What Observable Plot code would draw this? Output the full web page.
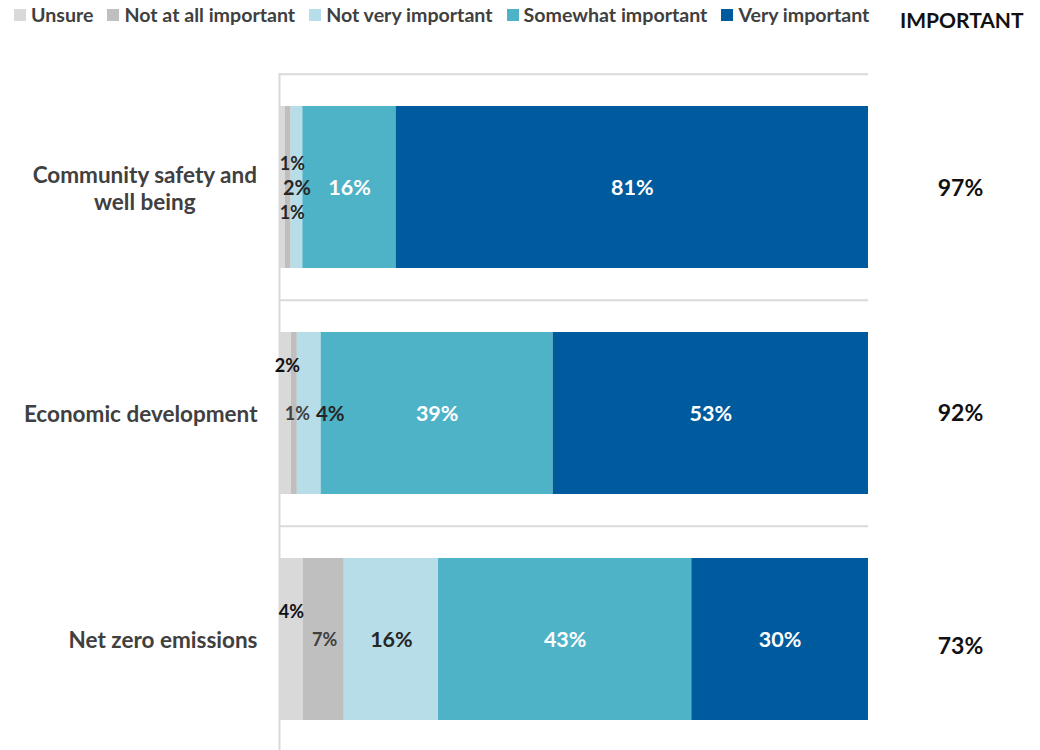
<!DOCTYPE html>
<html><head><meta charset="utf-8">
<script src="https://cdn.jsdelivr.net/npm/d3@7"></script>
<script src="https://cdn.jsdelivr.net/npm/@observablehq/plot@0.6"></script>
<style>
html,body{margin:0;padding:0;background:#fff;overflow:hidden;width:1040px;height:750px}
#wrap{position:relative;width:1040px;height:750px}
#legend{position:absolute;left:14px;top:3px;display:flex;align-items:center;font:bold 19.6px Lato, sans-serif;color:#404040;white-space:nowrap}
.item{display:flex;align-items:center;margin-right:14px}
.sw{width:12px;height:12px;margin-right:5px}
#hdr{position:absolute;left:900px;top:7px;font:bold 21px Lato, sans-serif;color:#111}
#chart{position:absolute;left:0;top:36px}
</style></head>
<body><div id="wrap"><div id="legend"></div><div id="hdr">IMPORTANT</div><div id="chart"></div></div>
<script>
// ---- data ----
const categories = ["Community safety and well being", "Economic development", "Net zero emissions"];
const categoryLabels = ["Community safety and\nwell being", "Economic development", "Net zero emissions"];
const series = ["Unsure", "Not at all important", "Not very important", "Somewhat important", "Very important"];
const unsure   = [1, 2, 4];
const notAtAll = [1, 1, 7];
const notVery  = [2, 4, 16];
const somewhat = [16, 39, 43];
const very     = [81, 53, 30];
const important = [97, 92, 73];
const colors = ["#d9d9d9", "#bfbfbf", "#b7dee8", "#4fb3c8", "#005a9e"];

// ---- label styling (manual placement like original) ----
const SMALL = 18, LARGE = 21.5;
const labelStyle = {
  "0|0": {dx: 10, dy: -23, size: SMALL, fill: "#262626"},
  "0|1": {dx: 4, dy: 26, size: SMALL, fill: "#262626"},
  "0|2": {dx: 0, dy: 1, size: 20, fill: "#262626"},
  "1|0": {dx: 2, dy: -47, size: SMALL, fill: "#111"},
  "1|1": {dx: 3, dy: 1, size: SMALL, fill: "#404040"},
  "1|2": {dx: 21, dy: 1, size: 20.5, fill: "#262626"},
  "2|0": {dx: 0, dy: -27, size: SMALL, fill: "#111"},
  "2|1": {dx: 1, dy: 1, size: SMALL, fill: "#404040"},
  "2|2": {dx: 0, dy: 1, size: LARGE, fill: "#262626"}
};
const importantDy = [1, 0, 7];

const valuesBySeries = [unsure, notAtAll, notVery, somewhat, very];
const rows = [];
categories.forEach((c, i) => {
  const total = d3.sum(valuesBySeries, v => v[i]);
  let cum = 0;
  series.forEach((s, j) => {
    const v = valuesBySeries[j][i];
    rows.push({category: c, series: s, value: v, mid: (cum + v / 2) / total, ci: i, sj: j});
    cum += v;
  });
});

// ---- legend ----
const legend = document.getElementById("legend");
series.forEach((s, j) => {
  const it = document.createElement("div"); it.className = "item";
  const sw = document.createElement("div"); sw.className = "sw"; sw.style.background = colors[j];
  const t = document.createElement("span"); t.textContent = s;
  it.append(sw, t); legend.append(it);
});

// ---- chart ----
const H = 717, MT = 37, MB = 0;
const step = (H - MT - MB) / categories.length;
const ctx = document.createElement("canvas").getContext("2d");
const catFont = 22.5;
ctx.font = `bold ${catFont}px Lato`;

const marks = [
  Plot.ruleY(categories, {y: d => d, dy: -step / 2, stroke: "#d9d9d9", strokeWidth: 2}),
  Plot.ruleX([0], {stroke: "#d9d9d9", strokeWidth: 2}),
  Plot.barX(rows, Plot.stackX({x: "value", y: "category", fill: "series", order: series, offset: "normalize"}))
];
rows.forEach(r => {
  const st = labelStyle[`${r.ci}|${r.sj}`] || {dx: 0, dy: 1, size: LARGE, fill: "#fff"};
  marks.push(Plot.text([r], {x: "mid", y: "category", text: d => d.value + "%", dx: st.dx, dy: st.dy,
    fontSize: st.size, fontWeight: "bold", fill: st.fill}));
});
categories.forEach((c, i) => {
  const w = d3.max(categoryLabels[i].split("\n"), l => ctx.measureText(l).width);
  marks.push(Plot.text([c], {y: d => d, text: () => categoryLabels[i], frameAnchor: "left", textAnchor: "middle",
    dx: -(22 + w / 2), lineHeight: 1.2, fontSize: catFont, fontWeight: "bold", fill: "#404040"}));
  marks.push(Plot.text([c], {y: d => d, text: () => important[i] + "%", frameAnchor: "right", textAnchor: "middle",
    dx: 92, dy: importantDy[i], fontSize: 23, fontWeight: "bold", fill: "#111"}));
});

const chart = Plot.plot({
  width: 1040, height: H,
  marginLeft: 279, marginRight: 172, marginTop: MT, marginBottom: MB,
  x: {axis: null, domain: [0, 1]},
  y: {axis: null, domain: categories, paddingInner: 0.285, paddingOuter: 0.1425},
  color: {domain: series, range: colors},
  style: {fontFamily: "Lato, sans-serif", background: "transparent", overflow: "visible"},
  marks
});
document.getElementById("chart").append(chart);
</script>
</body></html>
